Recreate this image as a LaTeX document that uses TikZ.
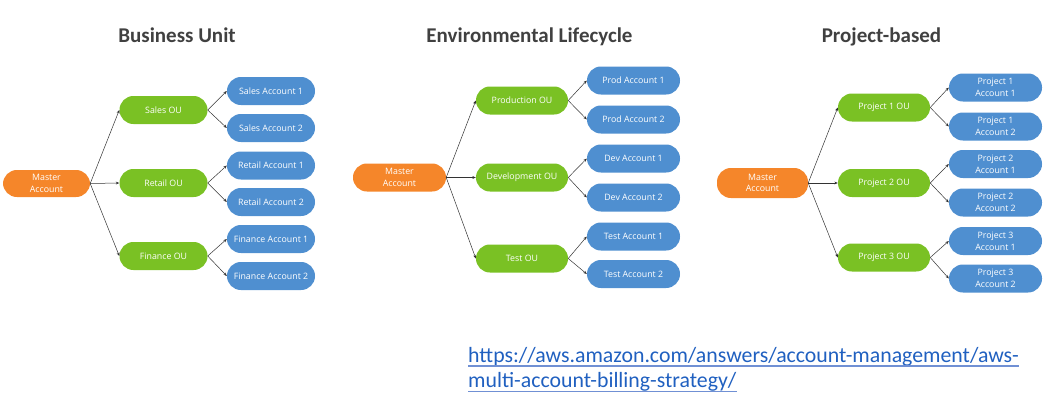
\documentclass[tikz,border=0pt]{standalone}
\usepackage{fontspec}
\setmainfont{Carlito}
\newfontfamily\nodefont{Open Sans}
\usetikzlibrary{arrows.meta}
\definecolor{mastercol}{HTML}{F5862A}
\definecolor{oucol}{HTML}{7AC124}
\definecolor{acccol}{HTML}{4F8FD0}
\definecolor{titlecol}{HTML}{404040}
\definecolor{linkcol}{HTML}{2060C0}
\definecolor{ulcol}{HTML}{7090D4}
\definecolor{arrowcol}{HTML}{333333}
\tikzset{
  pill/.style={rectangle, rounded corners=13.9pt, minimum height=28pt, inner sep=0pt,
    text=white, font=\nodefont\fontsize{8.8}{11.7}\selectfont, align=center},
  masterbox/.style={pill, fill=mastercol},
  oubox/.style={pill, fill=oucol},
  accbox/.style={pill, fill=acccol},
  conn/.style={draw=arrowcol, line width=0.5pt, -{Stealth[length=3.5pt,width=2.8pt]}},
  titletext/.style={text=titlecol, font=\fontsize{21}{24}\selectfont\bfseries, inner sep=0pt},
  linktext/.style={anchor=base west, inner sep=0pt, text=linkcol, font=\fontsize{21.8}{25}\selectfont},
}
\begin{document}
\begin{tikzpicture}[x=1pt,y=-1pt]
\useasboundingbox (0,0) rectangle (1051,402);

% Titles
\node[titletext, anchor=base] (t1) at (177,42) {Business Unit};
\node[titletext, anchor=base] (t2) at (529.5,42) {Environmental Lifecycle};
\node[titletext, anchor=base] (t3) at (881.5,42) {Project-based};

% ---- Business Unit ----
\begin{scope}[every node/.append style={minimum width=88pt}]
\node[masterbox, minimum width=87pt, minimum height=27pt] (bm) at (46.5,183.5) {Master\\Account};
\node[oubox] (bo1) at (163.5,110) {Sales OU};
\node[oubox] (bo2) at (163.5,183) {Retail OU};
\node[oubox] (bo3) at (163.5,256) {Finance OU};
\node[accbox] (ba1) at (271,91) {Sales Account 1};
\node[accbox] (ba2) at (271,128) {Sales Account 2};
\node[accbox] (ba3) at (271,165.5) {Retail Account 1};
\node[accbox] (ba4) at (271,202) {Retail Account 2};
\node[accbox] (ba5) at (271,239) {Finance Account 1};
\node[accbox] (ba6) at (271,276) {Finance Account 2};
\end{scope}
\foreach \o in {bo1,bo2,bo3} \draw[conn] (bm.east) -- (\o.west);
\draw[conn] (bo1.east) -- (ba1.west);
\draw[conn] (bo1.east) -- (ba2.west);
\draw[conn] (bo2.east) -- (ba3.west);
\draw[conn] (bo2.east) -- (ba4.west);
\draw[conn] (bo3.east) -- (ba5.west);
\draw[conn] (bo3.east) -- (ba6.west);

% ---- Environmental Lifecycle ----
\begin{scope}[every node/.append style={minimum width=93pt, minimum height=29pt}]
\node[masterbox] (em) at (399.5,177.5) {Master\\Account};
\node[oubox, minimum width=92pt] (eo1) at (522,100.5) {Production OU};
\node[oubox, minimum width=92pt] (eo2) at (522,177.5) {Development OU};
\node[oubox, minimum width=92pt] (eo3) at (522,258.5) {Test OU};
\node[accbox] (ea1) at (633.5,80.5) {Prod Account 1};
\node[accbox] (ea2) at (633.5,119.5) {Prod Account 2};
\node[accbox] (ea3) at (633.5,158.5) {Dev Account 1};
\node[accbox] (ea4) at (633.5,197.5) {Dev Account 2};
\node[accbox] (ea5) at (633.5,236.5) {Test Account 1};
\node[accbox] (ea6) at (633.5,274) {Test Account 2};
\end{scope}
\foreach \o in {eo1,eo2,eo3} \draw[conn] (em.east) -- (\o.west);
\draw[conn] (eo1.east) -- (ea1.west);
\draw[conn] (eo1.east) -- (ea2.west);
\draw[conn] (eo2.east) -- (ea3.west);
\draw[conn] (eo2.east) -- (ea4.west);
\draw[conn] (eo3.east) -- (ea5.west);
\draw[conn] (eo3.east) -- (ea6.west);

% ---- Project-based ----
\begin{scope}[every node/.append style={minimum width=93pt, minimum height=29pt}]
\node[masterbox, minimum width=91pt, minimum height=30pt] (pm) at (762.5,183) {Master\\Account};
\node[oubox, minimum width=92pt] (po1) at (884,107.5) {Project 1 OU};
\node[oubox, minimum width=92pt] (po2) at (884,183) {Project 2 OU};
\node[oubox, minimum width=92pt] (po3) at (884,257.5) {Project 3 OU};
\node[accbox] (pa1) at (995.5,87.5) {Project 1\\Account 1};
\node[accbox] (pa2) at (995.5,126.5) {Project 1\\Account 2};
\node[accbox] (pa3) at (995.5,164) {Project 2\\Account 1};
\node[accbox] (pa4) at (995.5,202.5) {Project 2\\Account 2};
\node[accbox] (pa5) at (995.5,241) {Project 3\\Account 1};
\node[accbox] (pa6) at (995.5,278.5) {Project 3\\Account 2};
\end{scope}
\foreach \o in {po1,po2,po3} \draw[conn] (pm.east) -- (\o.west);
\draw[conn] (po1.east) -- (pa1.west);
\draw[conn] (po1.east) -- (pa2.west);
\draw[conn] (po2.east) -- (pa3.west);
\draw[conn] (po2.east) -- (pa4.west);
\draw[conn] (po3.east) -- (pa5.west);
\draw[conn] (po3.east) -- (pa6.west);

% ---- URL ----
\node[linktext] (u1) at (468,362) {https://aws.amazon.com/answers/account-management/aws-};
\node[linktext] (u2) at (468,387.5) {multi-account-billing-strategy/};
\draw[ulcol, line width=1.3pt] ([yshift=-4pt]u1.base west) -- ([yshift=-4pt]u1.base east);
\draw[ulcol, line width=1.3pt] ([yshift=-4pt]u2.base west) -- ([yshift=-4pt]u2.base east);
\end{tikzpicture}
\end{document}
